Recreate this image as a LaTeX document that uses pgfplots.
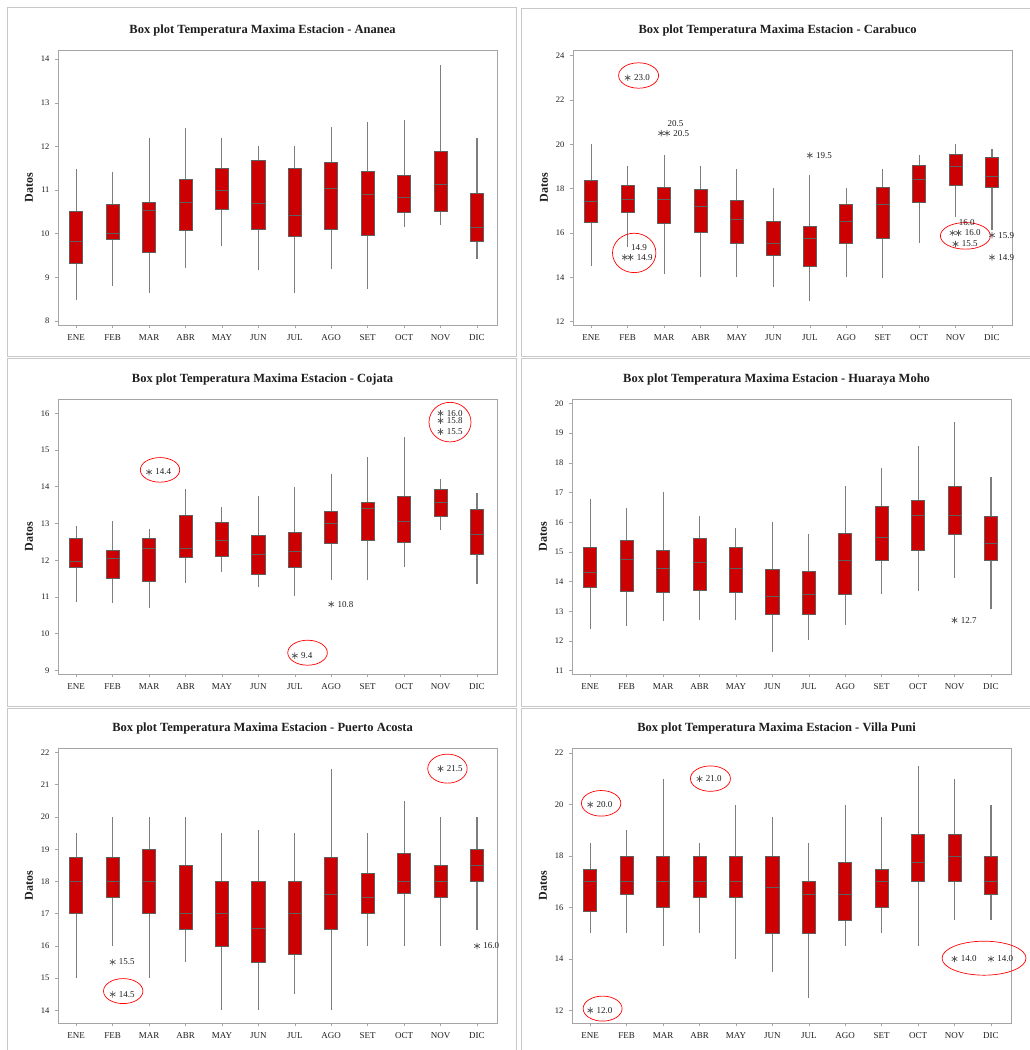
\documentclass[border=0pt]{standalone}
\usepackage{fontspec}
\setmainfont{Liberation Serif}
\usepackage{pgfplots}
\pgfplotsset{compat=1.18}
\usepgfplotslibrary{statistics}
\definecolor{boxred}{RGB}{204,0,0}
\definecolor{edgegray}{RGB}{95,95,95}
\definecolor{whiskgray}{RGB}{125,125,125}
\definecolor{framegray}{RGB}{165,165,165}
\definecolor{panelgray}{RGB}{200,200,200}
\definecolor{markgray}{RGB}{85,85,85}
\definecolor{txt}{RGB}{30,30,30}

\tikzset{ell/.style={red, line width=0.7pt}}
\pgfplotsset{
 panel/.style={
  scale only axis, width=439pt, height=275pt,
  anchor=south west,
  xmin=0.5, xmax=12.55,
  xtick={1,...,12},
  xticklabels={ENE,FEB,MAR,ABR,MAY,JUN,JUL,AGO,SET,OCT,NOV,DIC},
  axis line style={framegray, line width=0.9pt},
  tick style={framegray, line width=0.6pt},
  tick align=outside, tick pos=left, major tick length=3pt,
  /pgf/number format/assume math mode=true,
  xticklabel style={font=\fontsize{9}{10}\selectfont, text=txt, yshift=-3pt},
  yticklabel style={font=\fontsize{8.5}{10}\selectfont, text=txt, xshift=-2pt},
  title style={at={(0.466,1)}, anchor=base, yshift=11pt, text=txt, font=\bfseries\fontsize{12.5}{14}\selectfont},
  ylabel={Datos},
  ylabel style={at={(axis description cs:-0.066,0.5)}, anchor=center, text=txt, font=\bfseries\fontsize{12}{14}\selectfont},
  clip=false,
  boxplot/draw direction=y,
  boxplot/box extend=0.36,
  boxplot/whisker extend=0,
  boxplot/every whisker/.style={draw=whiskgray, line width=1.1pt},
  boxplot/every median/.style={draw=edgegray, line width=0.8pt},
  boxplot/every box/.style={draw=edgegray, fill=boxred, line width=0.8pt},
 },
 outl/.style={only marks, mark=asterisk, mark size=3.2pt, color=markgray,
  mark options={line width=0.7pt},
  point meta=explicit symbolic, nodes near coords, nodes near coords align={horizontal},
  every node near coord/.append style={anchor=west, xshift=6pt, inner sep=0pt, text=txt, font=\fontsize{9}{10}\selectfont}},
 outlup/.style={outl, every node near coord/.append style={yshift=10pt}},
}

\newcommand{\bx}[6]{\addplot[boxplot prepared={draw position=#1, lower whisker=#2, lower quartile=#3, median=#4, upper quartile=#5, upper whisker=#6}] coordinates {};}

\begin{document}
\begin{tikzpicture}
\path[use as bounding box] (0,0) rectangle (1030pt,-1050pt);
\fill[white] (0,0) rectangle (1030pt,-1050pt);
\draw[panelgray, line width=0.9pt] (7pt,-7pt) rectangle (516pt,-356pt);
\draw[panelgray, line width=0.9pt] (521pt,-8pt) rectangle (1040pt,-356pt);
\draw[panelgray, line width=0.9pt] (7pt,-358pt) rectangle (516pt,-706pt);
\draw[panelgray, line width=0.9pt] (521pt,-358pt) rectangle (1040pt,-706pt);
\draw[panelgray, line width=0.9pt] (7pt,-708pt) rectangle (516pt,-1060pt);
\draw[panelgray, line width=0.9pt] (521pt,-708pt) rectangle (1040pt,-1060pt);

% Panel 1: Ananea
\begin{axis}[panel, at={(58pt,-325pt)}, title={Box plot Temperatura Maxima Estacion - Ananea},
  ymin=7.91, ymax=14.21, ytick={8,...,14}]
\bx{1}{8.49}{9.32}{9.82}{10.52}{11.49}
\bx{2}{8.81}{9.86}{10.00}{10.67}{11.41}
\bx{3}{8.65}{9.58}{10.53}{10.71}{12.19}
\bx{4}{9.22}{10.07}{10.71}{11.25}{12.42}
\bx{5}{9.72}{10.56}{11.00}{11.50}{12.19}
\bx{6}{9.18}{10.11}{10.69}{11.68}{12.01}
\bx{7}{8.65}{9.94}{10.42}{11.50}{12.01}
\bx{8}{9.20}{10.11}{11.04}{11.64}{12.45}
\bx{9}{8.74}{9.96}{10.90}{11.43}{12.56}
\bx{10}{10.15}{10.48}{10.84}{11.33}{12.61}
\bx{11}{10.21}{10.52}{11.12}{11.89}{13.87}
\bx{12}{9.42}{9.82}{10.15}{10.93}{12.19}
\end{axis}

% Panel 2: Carabuco
\begin{axis}[panel, at={(573pt,-325pt)}, title={Box plot Temperatura Maxima Estacion - Carabuco},
  ymin=11.85, ymax=24.25, ytick={12,14,...,24}]
\bx{1}{14.53}{16.49}{17.43}{18.37}{20.0}
\bx{2}{15.36}{16.94}{17.51}{18.16}{19.03}
\bx{3}{14.15}{16.44}{17.51}{18.04}{19.53}
\bx{4}{14.03}{16.03}{17.18}{17.96}{19.03}
\bx{5}{14.03}{15.54}{16.61}{17.46}{18.9}
\bx{6}{13.55}{14.99}{15.54}{16.53}{18.04}
\bx{7}{12.92}{14.50}{15.75}{16.30}{18.62}
\bx{8}{14.03}{15.54}{16.53}{17.30}{18.04}
\bx{9}{13.95}{15.75}{17.30}{18.04}{18.9}
\bx{10}{15.54}{17.40}{18.41}{19.03}{19.53}
\bx{11}{16.74}{18.16}{19.0}{19.53}{20.0}
\bx{12}{16.14}{18.04}{18.55}{19.42}{19.78}
\addplot[outl] coordinates {(2,23.0)[23.0] (2.08,14.9)[14.9] (3.08,20.5)[20.5] (7,19.5)[19.5] (11.08,16.0)[16.0] (11,15.5)[15.5] (12,15.9)[15.9] (12,14.9)[14.9]};
\addplot[outlup] coordinates {(1.92,14.9)[14.9] (2.92,20.5)[20.5] (10.92,16.0)[16.0]};
\draw[ell] (axis cs:2.30,23.1) ellipse [x radius=20pt, y radius=12.7pt];
\draw[ell] (axis cs:2.18,15.1) ellipse [x radius=21.7pt, y radius=19.7pt];
\draw[ell] (axis cs:11.27,15.87) ellipse [x radius=25pt, y radius=13.3pt];
\end{axis}

% Panel 3: Cojata
\begin{axis}[panel, at={(58pt,-674pt)}, title={Box plot Temperatura Maxima Estacion - Cojata},
  ymin=8.90, ymax=16.39, ytick={9,...,16}]
\bx{1}{10.86}{11.81}{11.96}{12.58}{12.92}
\bx{2}{10.83}{11.51}{12.04}{12.28}{13.07}
\bx{3}{10.70}{11.41}{12.31}{12.58}{12.85}
\bx{4}{11.37}{12.08}{12.31}{13.22}{13.93}
\bx{5}{11.67}{12.11}{12.53}{13.03}{13.46}
\bx{6}{11.27}{11.61}{12.16}{12.67}{13.75}
\bx{7}{11.02}{11.81}{12.24}{12.77}{13.98}
\bx{8}{11.47}{12.46}{13.0}{13.34}{14.34}
\bx{9}{11.47}{12.55}{13.40}{13.57}{14.82}
\bx{10}{11.81}{12.49}{13.05}{13.74}{15.35}
\bx{11}{12.81}{13.19}{13.57}{13.93}{14.2}
\bx{12}{11.34}{12.16}{12.70}{13.37}{13.84}
\addplot[outl] coordinates {(3,14.4)[14.4] (7,9.4)[9.4] (8,10.8)[10.8] (11,16.0)[16.0] (11,15.8)[15.8] (11,15.5)[15.5]};
\draw[ell] (axis cs:3.30,14.46) ellipse [x radius=19.7pt, y radius=12.3pt];
\draw[ell] (axis cs:7.35,9.48) ellipse [x radius=19.8pt, y radius=12.5pt];
\draw[ell] (axis cs:11.26,15.76) ellipse [x radius=21pt, y radius=19.8pt];
\end{axis}

% Panel 4: Huaraya Moho
\begin{axis}[panel, at={(572pt,-674pt)}, title={Box plot Temperatura Maxima Estacion - Huaraya Moho},
  ymin=10.89, ymax=20.15, ytick={11,...,20}]
\bx{1}{12.41}{13.81}{14.31}{15.14}{16.79}
\bx{2}{12.50}{13.68}{14.75}{15.39}{16.49}
\bx{3}{12.66}{13.63}{14.43}{15.04}{17.01}
\bx{4}{12.72}{13.69}{14.66}{15.46}{16.21}
\bx{5}{12.72}{13.63}{14.43}{15.17}{15.80}
\bx{6}{11.62}{12.90}{13.49}{14.40}{16.0}
\bx{7}{12.02}{12.90}{13.57}{14.34}{15.59}
\bx{8}{12.53}{13.58}{14.71}{15.64}{17.23}
\bx{9}{13.58}{14.70}{15.49}{16.52}{17.84}
\bx{10}{13.67}{15.04}{16.22}{16.73}{18.56}
\bx{11}{14.11}{15.58}{16.22}{17.20}{19.37}
\bx{12}{13.08}{14.70}{15.30}{16.19}{17.54}
\addplot[outl] coordinates {(11,12.7)[12.7]};
\end{axis}

% Panel 5: Puerto Acosta
\begin{axis}[panel, at={(58pt,-1023pt)}, title={Box plot Temperatura Maxima Estacion - Puerto Acosta},
  ymin=13.61, ymax=22.14, ytick={14,...,22}]
\bx{1}{15.0}{17.0}{18.0}{18.75}{19.5}
\bx{2}{16.0}{17.5}{18.0}{18.75}{20.0}
\bx{3}{15.0}{17.0}{18.0}{19.0}{20.0}
\bx{4}{15.5}{16.5}{17.0}{18.5}{20.0}
\bx{5}{14.0}{16.0}{17.0}{18.0}{19.5}
\bx{6}{14.0}{15.5}{16.56}{18.0}{19.6}
\bx{7}{14.5}{15.75}{17.0}{18.0}{19.5}
\bx{8}{14.0}{16.5}{17.6}{18.75}{21.5}
\bx{9}{16.0}{17.0}{17.5}{18.25}{19.5}
\bx{10}{16.0}{17.63}{18.0}{18.87}{20.5}
\bx{11}{16.0}{17.5}{18.0}{18.5}{20.0}
\bx{12}{16.5}{18.0}{18.5}{19.0}{20.0}
\addplot[outl] coordinates {(2,15.5)[15.5] (2,14.5)[14.5] (11,21.5)[21.5] (12,16.0)[16.0]};
\draw[ell] (axis cs:2.29,14.60) ellipse [x radius=19.7pt, y radius=12.5pt];
\draw[ell] (axis cs:11.19,21.5) ellipse [x radius=19.7pt, y radius=14.5pt];
\end{axis}

% Panel 6: Villa Puni
\begin{axis}[panel, at={(572pt,-1023pt)}, title={Box plot Temperatura Maxima Estacion - Villa Puni},
  ymin=11.51, ymax=22.2, ytick={12,14,...,22}]
\bx{1}{15.0}{15.86}{17.0}{17.5}{18.5}
\bx{2}{15.0}{16.5}{17.0}{18.0}{19.0}
\bx{3}{14.5}{16.0}{17.0}{18.0}{21.0}
\bx{4}{15.0}{16.38}{17.0}{18.0}{18.5}
\bx{5}{14.0}{16.38}{17.0}{18.0}{20.0}
\bx{6}{13.5}{15.0}{16.77}{18.0}{19.5}
\bx{7}{12.5}{15.0}{16.5}{17.0}{18.5}
\bx{8}{14.5}{15.5}{16.5}{17.76}{20.0}
\bx{9}{15.0}{16.0}{17.0}{17.5}{19.5}
\bx{10}{14.5}{17.0}{17.76}{18.85}{21.5}
\bx{11}{15.5}{17.0}{18.0}{18.85}{21.0}
\bx{12}{15.5}{16.5}{17.0}{18.0}{20.0}
\addplot[outl] coordinates {(1,20.0)[20.0] (1,12.0)[12.0] (4,21.0)[21.0] (11,14.0)[14.0] (12,14.0)[14.0]};
\draw[ell] (axis cs:1.30,20.05) ellipse [x radius=19.7pt, y radius=12.8pt];
\draw[ell] (axis cs:4.30,21.01) ellipse [x radius=20pt, y radius=12.7pt];
\draw[ell] (axis cs:1.34,12.07) ellipse [x radius=19.5pt, y radius=12.5pt];
\draw[ell] (axis cs:11.81,14.03) ellipse [x radius=42pt, y radius=17pt];
\end{axis}
\end{tikzpicture}
\end{document}
